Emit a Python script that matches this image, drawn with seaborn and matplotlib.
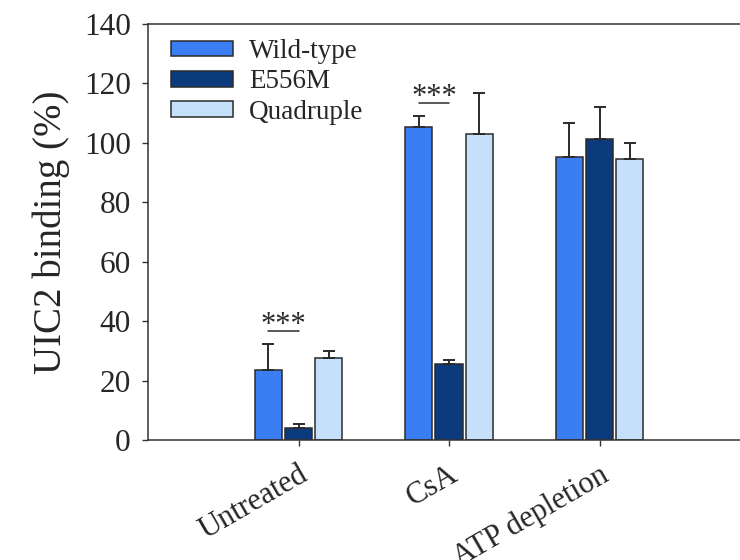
import numpy as np
import pandas as pd
import matplotlib
matplotlib.use("Agg")
import matplotlib.pyplot as plt
import seaborn as sns

# ---- data ----
treatments = ["Untreated", "CsA", "ATP depletion"]
variants = ["Wild-type", "E556M", "Quadruple"]
wild_type = [23.6, 105.3, 95.4]
e556m = [4.2, 25.6, 101.2]
quadruple = [27.7, 102.9, 94.4]
wild_type_err = [8.8, 3.9, 11.2]
e556m_err = [1.3, 1.2, 11.0]
quadruple_err = [2.3, 13.9, 5.5]
significant = ["Untreated", "CsA"]   # *** between Wild-type and E556M
y_ticks = [0, 20, 40, 60, 80, 100, 120, 140]

colors = ["#3b7df2", "#0b3b7c", "#c4e0fb"]

df = pd.DataFrame({
    "treatment": treatments * 3,
    "variant": [v for v in variants for _ in treatments],
    "value": wild_type + e556m + quadruple,
    "err": wild_type_err + e556m_err + quadruple_err,
})

sns.set_style("ticks")
plt.rcParams["font.family"] = ["Liberation Serif", "DejaVu Serif"]

fig = plt.figure(figsize=(7.4, 5.6), dpi=100)
ax = fig.add_axes([148 / 740, 1 - 440 / 560, 592 / 740, 416 / 560])

sns.barplot(data=df, x="treatment", y="value", hue="variant",
            order=treatments, hue_order=variants, palette=colors,
            width=0.6, gap=0.1, errorbar=None, edgecolor="#2b2b2b",
            linewidth=1.1, saturation=1, ax=ax)

# error bars (upward only) from bar patches
bar_info = {}
for (v, cont) in zip(variants, ax.containers):
    sub = df[df["variant"] == v].set_index("treatment").loc[treatments]
    for t, patch, val, e in zip(treatments, cont.patches, sub["value"], sub["err"]):
        xc = patch.get_x() + patch.get_width() / 2
        ax.errorbar(xc, val, yerr=[[0], [e]], fmt="none", ecolor="#2b2b2b",
                    elinewidth=1.4, capsize=4.6, capthick=1.4, zorder=1)
        bar_info[(t, v)] = (xc, val + e)

# significance marks
for t in significant:
    x1, top1 = bar_info[(t, "Wild-type")]
    x2, top2 = bar_info[(t, "E556M")]
    yl = max(top1, top2) + 4.3
    ax.plot([x1, x2], [yl, yl], color="#2b2b2b", lw=1.1)
    ax.text((x1 + x2) / 2, yl - 0.6, "***", ha="center", va="baseline",
            fontsize=22, color="#2b2b2b")

ax.set_ylim(0, 140)
ax.set_yticks(y_ticks)
ax.set_xlim(-1, -1 + 592 / 150.5)
ax.set_xlabel("")
ax.set_ylabel("UIC2 binding (%)", fontsize=28, labelpad=10)
ax.tick_params(axis="y", labelsize=22.5, length=4.5, width=1, pad=8, color="#333333")
ax.tick_params(axis="x", labelsize=22, length=4.5, width=1, pad=10, color="#333333")
for lab in ax.get_xticklabels():
    lab.set_rotation(30)
    lab.set_ha("right")
    lab.set_va("top")
    lab.set_rotation_mode("anchor")

for s in ["left", "bottom", "top"]:
    ax.spines[s].set_color("#333333")
    ax.spines[s].set_linewidth(1.1)
ax.spines["right"].set_visible(False)

handles, labels = ax.get_legend_handles_labels()
ax.legend(handles, labels, loc="upper left", bbox_to_anchor=(0.02, 0.99),
          frameon=False, fontsize=19.5, handlelength=2.3, handleheight=0.5,
          labelspacing=0.2, handletextpad=0.6, borderaxespad=0)

fig.savefig("out.png", dpi=100)
